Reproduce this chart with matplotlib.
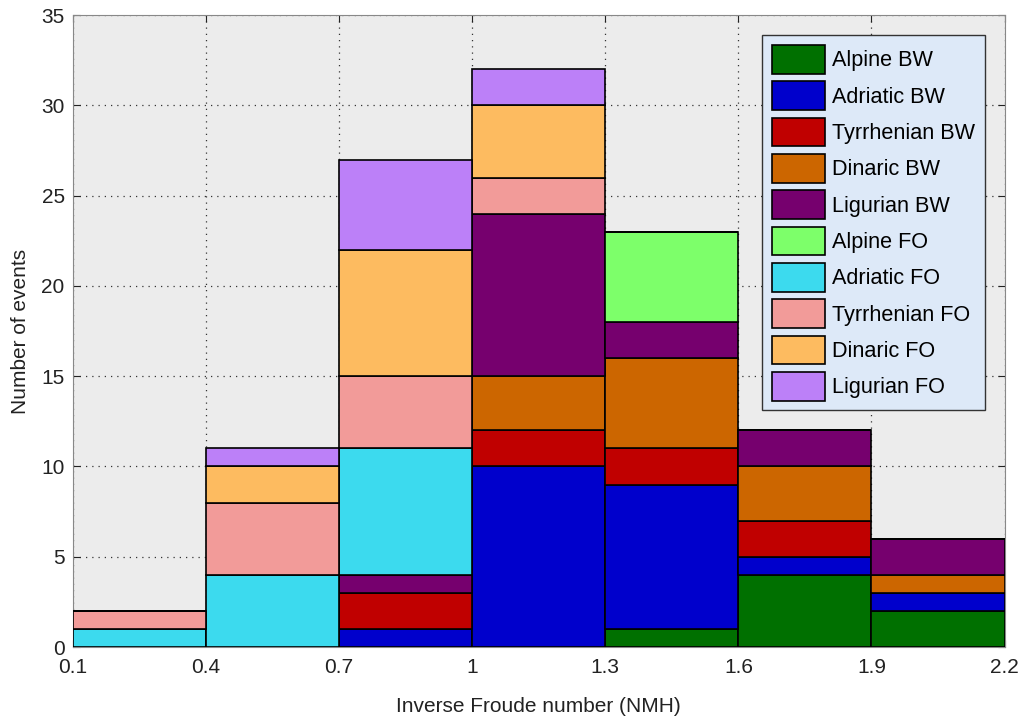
import matplotlib.pyplot as plt
import numpy as np

plt.rcParams['font.family'] = ['Liberation Sans', 'DejaVu Sans']

# Bin edges (inverse Froude number)
bin_edges = [0.1, 0.4, 0.7, 1.0, 1.3, 1.6, 1.9, 2.2]

# Counts per bin for each series (stacked in this order)
series_names = ["Alpine BW", "Adriatic BW", "Tyrrhenian BW", "Dinaric BW", "Ligurian BW",
                "Alpine FO", "Adriatic FO", "Tyrrhenian FO", "Dinaric FO", "Ligurian FO"]
alpine_bw = [0, 0, 0, 0, 1, 4, 2]
adriatic_bw = [0, 0, 1, 10, 8, 1, 1]
tyrrhenian_bw = [0, 0, 2, 2, 2, 2, 0]
dinaric_bw = [0, 0, 0, 3, 5, 3, 1]
ligurian_bw = [0, 0, 1, 9, 2, 2, 2]
alpine_fo = [0, 0, 0, 0, 5, 0, 0]
adriatic_fo = [1, 4, 7, 0, 0, 0, 0]
tyrrhenian_fo = [1, 4, 4, 2, 0, 0, 0]
dinaric_fo = [0, 2, 7, 4, 0, 0, 0]
ligurian_fo = [0, 1, 5, 2, 0, 0, 0]

colors = ["#007000", "#0000cc", "#c00000", "#cc6600", "#76006e",
          "#7dff6a", "#3cdaee", "#f29b99", "#fdbb60", "#bc80f8"]

all_series = [alpine_bw, adriatic_bw, tyrrhenian_bw, dinaric_bw, ligurian_bw,
              alpine_fo, adriatic_fo, tyrrhenian_fo, dinaric_fo, ligurian_fo]

fig = plt.figure(figsize=(10.24, 7.17), dpi=100)
ax = fig.add_axes([0.0713, 0.0976, 0.9097, 0.8814])
ax.set_facecolor("#ececec")

lefts = np.array(bin_edges[:-1])
widths = np.diff(bin_edges)
bottom = np.zeros(len(lefts))
for name, vals, col in zip(series_names, all_series, colors):
    vals = np.array(vals, dtype=float)
    ax.bar(lefts, vals, width=widths, bottom=bottom, align="edge", color=col,
           edgecolor="black", linewidth=1.2, label=name, zorder=3)
    bottom += vals

ax.set_xlim(0.1, 2.2)
ax.set_ylim(0, 35)
ax.set_xticks(bin_edges)
ax.set_xticklabels(["0.1", "0.4", "0.7", "1", "1.3", "1.6", "1.9", "2.2"])
ax.set_yticks(range(0, 36, 5))
ax.grid(True, linestyle=(0, (1, 4)), color="#333333", linewidth=0.9, zorder=0)
ax.tick_params(labelsize=15, colors="#222222", direction="in", length=5,
               top=True, right=True)
ax.tick_params(axis="x", pad=8)
ax.tick_params(axis="y", pad=6)
for s in ax.spines.values():
    s.set_color("#888888")

ax.set_xlabel("Inverse Froude number (NMH)", fontsize=15, color="#222222", labelpad=14)
ax.set_ylabel("Number of events", fontsize=15, color="#222222", labelpad=8)

leg = ax.legend(loc="upper right", bbox_to_anchor=(0.9785, 0.968), borderaxespad=0,
                fontsize=15.6, facecolor="#dde9f8", edgecolor="#333333", framealpha=1,
                fancybox=False, handlelength=2.45, handleheight=1.65,
                labelspacing=0.36, borderpad=0.45, handletextpad=0.3)
leg.set_zorder(5)

fig.savefig("out.png", dpi=100)
